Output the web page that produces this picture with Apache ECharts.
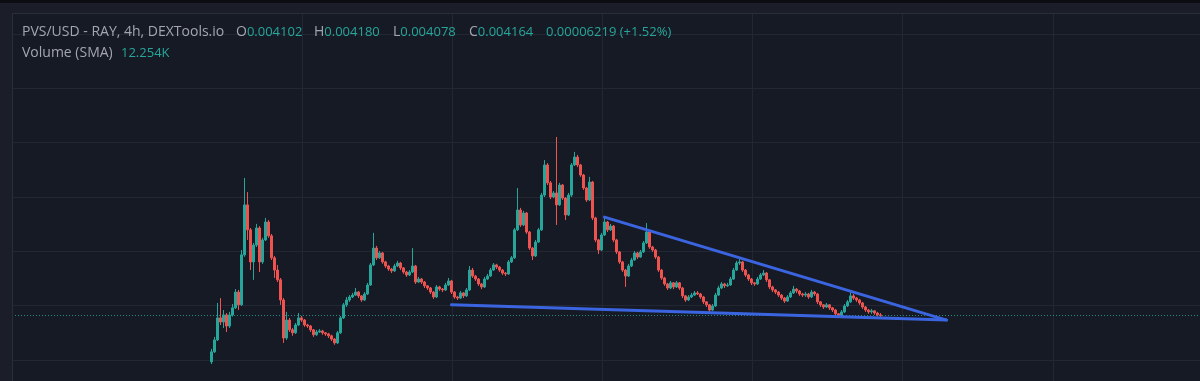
<!DOCTYPE html>
<html><head><meta charset="utf-8">
<script src="https://cdn.jsdelivr.net/npm/echarts@6/dist/echarts.min.js"></script>
<style>html,body{margin:0;padding:0;background:#161a25;overflow:hidden}#c{width:1200px;height:381px;}</style>
</head><body><div id="c"></div>
<script>
// ---- data ----
const pairTitle = 'PVS/USD - RAY, 4h, DEXTools.io';
const ohlcLabels = ['O', 'H', 'L', 'C'];
const ohlcValues = ['0.004102', '0.004180', '0.004078', '0.004164'];
const changeText = '0.00006219 (+1.52%)';
const volumeLabel = 'Volume (SMA)';
const volumeValue = '12.254K';
const lastPrice = 4164;            // price in 1e-6 USD
const firstBar = 70;               // index of the first traded 4h bar
const totalBars = 400;             // bars on the time axis (incl. empty future)
// [open, close, low, high] in 1e-6 USD
const candles = [
[3993,4030,3985,4041],[4030,4074,4026,4085],[4074,4155,4070,4210],[4155,4140,4129,4228],[4140,4166,4118,4184],
[4166,4125,4103,4173],[4125,4166,4118,4177],[4166,4192,4160,4206],[4192,4250,4188,4261],[4250,4203,4184,4258],
[4203,4387,4199,4405],[4387,4571,4380,4670],[4571,4479,4442,4618],[4479,4361,4331,4486],[4361,4423,4295,4431],
[4423,4486,4416,4501],[4486,4361,4324,4493],[4361,4442,4354,4450],[4442,4508,4438,4523],[4508,4457,4450,4515],
[4457,4376,4368,4464],[4376,4331,4302,4383],[4331,4295,4287,4350],[4295,4221,4203,4302],[4221,4081,4063,4228],
[4081,4147,4074,4177],[4147,4111,4103,4155],[4111,4100,4089,4118],[4100,4129,4096,4136],[4129,4155,4125,4173],
[4155,4147,4140,4162],[4147,4129,4122,4151],[4129,4125,4118,4133],[4125,4111,4103,4129],[4111,4093,4085,4114],
[4093,4103,4089,4111],[4103,4107,4100,4114],[4107,4100,4093,4111],[4100,4096,4089,4103],[4096,4089,4081,4100],
[4089,4077,4070,4093],[4077,4063,4056,4081],[4063,4100,4059,4107],[4100,4155,4096,4162],[4155,4203,4151,4210],
[4203,4221,4195,4232],[4221,4232,4214,4239],[4232,4239,4228,4247],[4239,4250,4236,4265],[4250,4236,4228,4254],
[4236,4221,4214,4239],[4221,4243,4217,4250],[4243,4276,4239,4284],[4276,4350,4273,4357],[4350,4412,4346,4468],
[4412,4376,4368,4420],[4376,4394,4372,4401],[4394,4361,4354,4398],[4361,4346,4339,4365],[4346,4335,4328,4350],
[4335,4328,4320,4339],[4328,4346,4324,4354],[4346,4357,4342,4365],[4357,4339,4331,4361],[4339,4324,4317,4342],
[4324,4313,4306,4328],[4313,4324,4309,4331],[4324,4346,4320,4412],[4346,4287,4280,4350],[4287,4298,4284,4306],
[4298,4287,4280,4302],[4287,4273,4265,4291],[4273,4265,4258,4276],[4265,4250,4243,4269],[4250,4232,4225,4254],
[4232,4269,4228,4276],[4269,4261,4254,4273],[4261,4258,4250,4265],[4258,4276,4254,4284],[4276,4291,4273,4302],
[4291,4250,4243,4295],[4250,4232,4225,4254],[4232,4228,4221,4236],[4228,4247,4225,4254],[4247,4236,4228,4250],
[4236,4258,4232,4265],[4258,4331,4254,4346],[4331,4309,4302,4339],[4309,4298,4291,4313],[4298,4280,4273,4302],
[4280,4269,4261,4284],[4269,4298,4265,4306],[4298,4309,4295,4317],[4309,4331,4306,4339],[4331,4350,4328,4357],
[4350,4342,4335,4354],[4342,4331,4324,4346],[4331,4320,4313,4335],[4320,4317,4309,4324],[4317,4361,4313,4368],
[4361,4376,4357,4383],[4376,4479,4372,4486],[4479,4552,4475,4633],[4552,4497,4490,4560],[4497,4541,4493,4549],
[4541,4471,4464,4545],[4471,4412,4405,4475],[4412,4383,4368,4416],[4383,4434,4379,4442],[4434,4479,4431,4486],
[4479,4607,4475,4615],[4607,4718,4600,4736],[4718,4652,4644,4725],[4652,4600,4592,4659],[4600,4615,4596,4622],
[4615,4571,4497,4821],[4571,4644,4567,4652],[4644,4596,4589,4648],[4596,4534,4515,4600],[4534,4607,4530,4615],
[4607,4718,4600,4725],[4718,4747,4714,4766],[4747,4718,4710,4755],[4718,4681,4674,4722],[4681,4633,4626,4685],
[4633,4589,4582,4637],[4589,4655,4585,4674],[4655,4523,4515,4659],[4523,4442,4434,4527],[4442,4405,4390,4446],
[4405,4460,4401,4468],[4460,4508,4457,4530],[4508,4479,4471,4512],[4479,4493,4475,4501],[4493,4442,4434,4497],
[4442,4398,4390,4446],[4398,4361,4354,4401],[4361,4331,4324,4365],[4331,4309,4269,4335],[4309,4346,4306,4354],
[4346,4368,4342,4376],[4368,4394,4365,4401],[4394,4379,4372,4398],[4379,4398,4376,4405],[4398,4431,4394,4438],
[4431,4471,4427,4504],[4471,4416,4409,4475],[4416,4405,4398,4420],[4405,4379,4372,4409],[4379,4331,4324,4383],
[4331,4302,4295,4335],[4302,4280,4273,4306],[4280,4265,4258,4284],[4265,4284,4261,4291],[4284,4269,4261,4287],
[4269,4284,4265,4291],[4284,4265,4258,4287],[4265,4236,4228,4269],[4236,4221,4214,4239],[4221,4232,4217,4239],
[4232,4239,4228,4247],[4239,4247,4236,4254],[4247,4243,4239,4254],[4243,4232,4225,4247],[4232,4214,4206,4236],
[4214,4203,4195,4217],[4203,4184,4173,4206],[4184,4199,4181,4206],[4199,4239,4195,4247],[4239,4265,4236,4273],
[4265,4280,4261,4287],[4280,4273,4265,4284],[4273,4276,4269,4284],[4276,4298,4273,4306],[4298,4331,4295,4339],
[4331,4357,4328,4365],[4357,4361,4350,4379],[4361,4331,4324,4365],[4331,4313,4306,4335],[4313,4298,4291,4317],
[4298,4284,4276,4302],[4284,4280,4273,4287],[4280,4298,4276,4306],[4298,4313,4295,4320],[4313,4320,4309,4331],
[4320,4295,4287,4324],[4295,4269,4261,4298],[4269,4258,4250,4273],[4258,4250,4243,4261],[4250,4239,4232,4254],
[4239,4228,4221,4243],[4228,4217,4210,4232],[4217,4232,4214,4239],[4232,4247,4228,4254],[4247,4261,4243,4273],
[4261,4254,4247,4265],[4254,4243,4236,4258],[4243,4239,4232,4247],[4239,4243,4232,4250],[4243,4232,4225,4247],
[4232,4250,4228,4258],[4250,4243,4236,4254],[4243,4214,4206,4247],[4214,4203,4195,4217],[4203,4195,4188,4206],
[4195,4203,4192,4210],[4203,4192,4184,4206],[4192,4184,4177,4195],[4184,4170,4162,4188],[4170,4162,4155,4173],
[4162,4177,4158,4184],[4177,4199,4173,4206],[4199,4214,4195,4221],[4214,4236,4210,4250],[4236,4228,4221,4243],
[4228,4221,4214,4232],[4221,4210,4203,4225],[4210,4195,4188,4214],[4195,4184,4177,4199],[4184,4177,4170,4188],
[4177,4181,4170,4188],[4181,4173,4166,4184],[4173,4166,4160,4177],[4166,4164,4158,4173]
];
// drawn trend lines: [bar index, price]
const upperTrend = [[201, 4526], [315, 4147]];
const lowerTrend = [[150, 4203], [315, 4147]];
const priceTicks = { min: 4000, max: 5200, step: 200 };

// ---- build ----
const categories = [];
const seriesData = [];
for (let i = 0; i < totalBars; i++) {
  categories.push(String(i));
  const k = i - firstBar;
  seriesData.push(k >= 0 && k < candles.length ? candles[k] : '-');
}

const UP = '#26a69a', DOWN = '#ef5350';
const GRID = '#232734';
const FONT = '"Open Sans", "DejaVu Sans", sans-serif';
const LABEL = '#a3a6af', TEAL = '#26a69a';

const chart = echarts.init(document.getElementById('c'), null, { renderer: 'canvas' });

const headerTexts = [
  { x: 22, y: 32, rich: `{g|${pairTitle}}` },
  { x: 236, y: 32, rich: `{g|${ohlcLabels[0]}}{t|${ohlcValues[0]}}` },
  { x: 314, y: 32, rich: `{g|${ohlcLabels[1]}}{t|${ohlcValues[1]}}` },
  { x: 393, y: 32, rich: `{g|${ohlcLabels[2]}}{t|${ohlcValues[2]}}` },
  { x: 469, y: 32, rich: `{g|${ohlcLabels[3]}}{t|${ohlcValues[3]}}` },
  { x: 546, y: 32, rich: `{t|${changeText}}` },
  { x: 22, y: 53, rich: `{g|${volumeLabel}}` },
  { x: 121, y: 53, rich: `{t|${volumeValue}}` }
];

chart.setOption({
  backgroundColor: '#161a25',
  animation: false,
  grid: [
    { left: 0, right: 0, top: 34, bottom: 21 },
    { left: 302, right: 0, top: 14, bottom: 0 }
  ],
  xAxis: [
    { type: 'category', gridIndex: 0, data: categories, boundaryGap: true,
      axisLine: { show: false }, axisTick: { show: false }, axisLabel: { show: false }, splitLine: { show: false } },
    { type: 'value', gridIndex: 1, min: 0, max: 898, interval: 150.15,
      axisLine: { show: false }, axisTick: { show: false }, axisLabel: { show: false },
      splitLine: { show: true, lineStyle: { color: GRID, width: 1 } } }
  ],
  yAxis: [
    { type: 'value', gridIndex: 0, min: priceTicks.min, max: priceTicks.max, interval: priceTicks.step,
      axisLine: { show: false }, axisTick: { show: false }, axisLabel: { show: false },
      splitLine: { show: true, lineStyle: { color: GRID, width: 1 } } },
    { type: 'value', gridIndex: 1, min: 0, max: 1, show: false, splitLine: { show: false } }
  ],
  series: [
    { type: 'line', xAxisIndex: 1, yAxisIndex: 1, data: [], silent: true },
    {
      type: 'candlestick', xAxisIndex: 0, yAxisIndex: 0, data: seriesData, clip: false,
      barWidth: 2.5,
      itemStyle: { color: UP, color0: DOWN, borderColor: UP, borderColor0: DOWN, borderWidth: 1 },
      markLine: {
        silent: true, symbol: ['none', 'none'], label: { show: false },
        lineStyle: { color: TEAL, type: [1, 2], width: 1, opacity: 0.8 },
        data: [{ yAxis: lastPrice }]
      }
    },
    { type: 'line', xAxisIndex: 0, yAxisIndex: 0, data: upperTrend, symbol: 'none', z: 5,
      lineStyle: { color: '#3b65e0', width: 3, cap: 'round' } },
    { type: 'line', xAxisIndex: 0, yAxisIndex: 0, data: lowerTrend, symbol: 'none', z: 5,
      lineStyle: { color: '#3b65e0', width: 3, cap: 'round' } }
  ],
  graphic: [
    { type: 'rect', z: 100, shape: { x: 0, y: 0, width: 1200, height: 14 }, style: { fill: '#1b1e29' } },
    { type: 'rect', z: 101, shape: { x: 0, y: 0, width: 1200, height: 3 }, style: { fill: '#0b0d12' } },
    { type: 'rect', z: 100, shape: { x: 0, y: 0, width: 13, height: 381 }, style: { fill: '#1b1e29' } },
    { type: 'rect', z: 102, shape: { x: 13, y: 13, width: 1187, height: 1 }, style: { fill: '#2a2e3a' } },
    { type: 'rect', z: 102, shape: { x: 12, y: 13, width: 1, height: 368 }, style: { fill: '#2a2e3a' } }
  ].concat(headerTexts.map(h => ({
    type: 'text', z: 110, x: h.x, y: h.y,
    style: {
      text: h.rich, verticalAlign: 'middle', align: 'left',
      rich: {
        g: { fill: LABEL, fontSize: 14, fontFamily: FONT },
        t: { fill: TEAL, fontSize: 13, fontFamily: FONT }
      }
    }
  })))
});
</script>
</body></html>
